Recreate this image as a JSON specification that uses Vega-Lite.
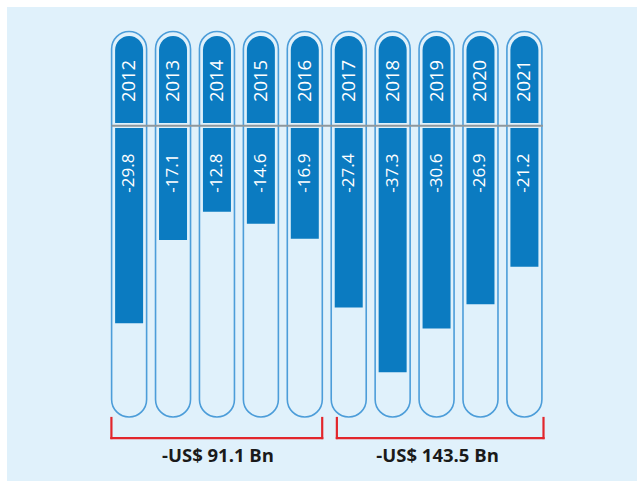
{
  "$schema": "https://vega.github.io/schema/vega-lite/v6.json",
  "width": 630,
  "height": 474,
  "autosize": {"type": "none"},
  "padding": {"left": 7, "top": 7, "right": 0, "bottom": 0},
  "background": "#ffffff",
  "config": {"view": {"stroke": null, "fill": "#e0f1fb"}, "font": "Open Sans"},
  "datasets": {
    "trade": [
      {"year": 2012, "value": -29.8},
      {"year": 2013, "value": -17.1},
      {"year": 2014, "value": -12.8},
      {"year": 2015, "value": -14.6},
      {"year": 2016, "value": -16.9},
      {"year": 2017, "value": -27.4},
      {"year": 2018, "value": -37.3},
      {"year": 2019, "value": -30.6},
      {"year": 2020, "value": -26.9},
      {"year": 2021, "value": -21.2}
    ],
    "groups": [
      {"first": 2012, "last": 2016, "label": "-US$ 91.1 Bn"},
      {"first": 2017, "last": 2021, "label": "-US$ 143.5 Bn"}
    ]
  },
  "layer": [
    {
      "data": {"name": "trade"},
      "mark": {"type": "bar", "width": 35, "cornerRadius": 17.5, "fill": "#e0f1fb", "stroke": "#4c9dd9", "strokeWidth": 1.6},
      "encoding": {
        "x": {"field": "year", "type": "quantitative", "scale": {"domain": [2009.3336, 2023.4497], "nice": false, "zero": false}, "axis": null},
        "y": {"datum": 14.73, "type": "quantitative", "scale": {"domain": [-53.89, 18.47], "nice": false, "zero": false}, "axis": null},
        "y2": {"datum": -44.12}
      }
    },
    {
      "data": {"name": "trade"},
      "mark": {"type": "bar", "width": 28, "cornerRadiusTopLeft": 14, "cornerRadiusTopRight": 14, "fill": "#0b7bc1"},
      "encoding": {
        "x": {"field": "year", "type": "quantitative", "scale": {"domain": [2009.3336, 2023.4497], "nice": false, "zero": false}, "axis": null},
        "y": {"datum": 14.05, "type": "quantitative", "scale": {"domain": [-53.89, 18.47], "nice": false, "zero": false}, "axis": null},
        "y2": {"datum": 0.76}
      }
    },
    {
      "data": {"name": "trade"},
      "mark": {"type": "bar", "width": 28, "fill": "#0b7bc1"},
      "encoding": {
        "x": {"field": "year", "type": "quantitative", "scale": {"domain": [2009.3336, 2023.4497], "nice": false, "zero": false}, "axis": null},
        "y": {"field": "value", "type": "quantitative", "scale": {"domain": [-53.89, 18.47], "nice": false, "zero": false}, "axis": null},
        "y2": {"datum": 0}
      }
    },
    {
      "data": {"values": [{}]},
      "mark": {"type": "rule", "stroke": "#8e979d", "strokeWidth": 2},
      "encoding": {
        "x": {"datum": 2011.6, "type": "quantitative", "scale": {"domain": [2009.3336, 2023.4497], "nice": false, "zero": false}, "axis": null},
        "x2": {"datum": 2021.42},
        "y": {"datum": 0.35, "type": "quantitative", "scale": {"domain": [-53.89, 18.47], "nice": false, "zero": false}, "axis": null}
      }
    },
    {
      "data": {"name": "trade"},
      "mark": {"type": "text", "angle": 270, "align": "center", "baseline": "middle", "fill": "#ffffff", "fontSize": 18.5},
      "encoding": {
        "x": {"field": "year", "type": "quantitative", "scale": {"domain": [2009.3336, 2023.4497], "nice": false, "zero": false}, "axis": null},
        "y": {"datum": 7.18, "type": "quantitative", "scale": {"domain": [-53.89, 18.47], "nice": false, "zero": false}, "axis": null},
        "text": {"field": "year", "type": "nominal"}
      }
    },
    {
      "data": {"name": "trade"},
      "mark": {"type": "text", "angle": 270, "align": "right", "baseline": "middle", "fill": "#ffffff", "fontSize": 17},
      "encoding": {
        "x": {"field": "year", "type": "quantitative", "scale": {"domain": [2009.3336, 2023.4497], "nice": false, "zero": false}, "axis": null},
        "y": {"datum": -3.9, "type": "quantitative", "scale": {"domain": [-53.89, 18.47], "nice": false, "zero": false}, "axis": null},
        "text": {"field": "value", "type": "nominal"}
      }
    },
    {
      "data": {"name": "groups"},
      "transform": [{"filter": "datum.first == 2012"}],
      "layer": [
        {
          "mark": {"type": "rule", "stroke": "#e2262c", "strokeWidth": 2.2, "strokeCap": "square", "xOffset": -17.7, "x2Offset": 17.4},
          "encoding": {
            "x": {"field": "first", "type": "quantitative", "scale": {"domain": [2009.3336, 2023.4497], "nice": false, "zero": false}, "axis": null},
            "x2": {"field": "last"},
            "y": {"datum": -47.33, "type": "quantitative", "scale": {"domain": [-53.89, 18.47], "nice": false, "zero": false}, "axis": null}
          }
        },
        {
          "mark": {"type": "rule", "stroke": "#e2262c", "strokeWidth": 2.2, "strokeCap": "square", "xOffset": -17.7},
          "encoding": {
            "x": {"field": "first", "type": "quantitative", "scale": {"domain": [2009.3336, 2023.4497], "nice": false, "zero": false}, "axis": null},
            "y": {"datum": -44.27, "type": "quantitative", "scale": {"domain": [-53.89, 18.47], "nice": false, "zero": false}, "axis": null},
            "y2": {"datum": -47.33}
          }
        },
        {
          "mark": {"type": "rule", "stroke": "#e2262c", "strokeWidth": 2.2, "strokeCap": "square", "xOffset": 17.4},
          "encoding": {
            "x": {"field": "last", "type": "quantitative", "scale": {"domain": [2009.3336, 2023.4497], "nice": false, "zero": false}, "axis": null},
            "y": {"datum": -44.27, "type": "quantitative", "scale": {"domain": [-53.89, 18.47], "nice": false, "zero": false}, "axis": null},
            "y2": {"datum": -47.33}
          }
        }
      ]
    },
    {
      "data": {"name": "groups"},
      "transform": [{"filter": "datum.first == 2017"}],
      "layer": [
        {
          "mark": {"type": "rule", "stroke": "#e2262c", "strokeWidth": 2.2, "strokeCap": "square", "xOffset": -11.85, "x2Offset": 19.1},
          "encoding": {
            "x": {"field": "first", "type": "quantitative", "scale": {"domain": [2009.3336, 2023.4497], "nice": false, "zero": false}, "axis": null},
            "x2": {"field": "last"},
            "y": {"datum": -47.33, "type": "quantitative", "scale": {"domain": [-53.89, 18.47], "nice": false, "zero": false}, "axis": null}
          }
        },
        {
          "mark": {"type": "rule", "stroke": "#e2262c", "strokeWidth": 2.2, "strokeCap": "square", "xOffset": -11.85},
          "encoding": {
            "x": {"field": "first", "type": "quantitative", "scale": {"domain": [2009.3336, 2023.4497], "nice": false, "zero": false}, "axis": null},
            "y": {"datum": -44.27, "type": "quantitative", "scale": {"domain": [-53.89, 18.47], "nice": false, "zero": false}, "axis": null},
            "y2": {"datum": -47.33}
          }
        },
        {
          "mark": {"type": "rule", "stroke": "#e2262c", "strokeWidth": 2.2, "strokeCap": "square", "xOffset": 19.1},
          "encoding": {
            "x": {"field": "last", "type": "quantitative", "scale": {"domain": [2009.3336, 2023.4497], "nice": false, "zero": false}, "axis": null},
            "y": {"datum": -44.27, "type": "quantitative", "scale": {"domain": [-53.89, 18.47], "nice": false, "zero": false}, "axis": null},
            "y2": {"datum": -47.33}
          }
        }
      ]
    },
    {
      "data": {"name": "groups"},
      "transform": [{"calculate": "(datum.first + datum.last) / 2", "as": "mid"}],
      "mark": {"type": "text", "align": "center", "baseline": "middle", "fontSize": 18.5, "fontWeight": "bold", "fill": "#1a1a1a", "xOffset": 1},
      "encoding": {
        "x": {"field": "mid", "type": "quantitative", "scale": {"domain": [2009.3336, 2023.4497], "nice": false, "zero": false}, "axis": null},
        "y": {"datum": -50.1, "type": "quantitative", "scale": {"domain": [-53.89, 18.47], "nice": false, "zero": false}, "axis": null},
        "text": {"field": "label", "type": "nominal"}
      }
    }
  ]
}
